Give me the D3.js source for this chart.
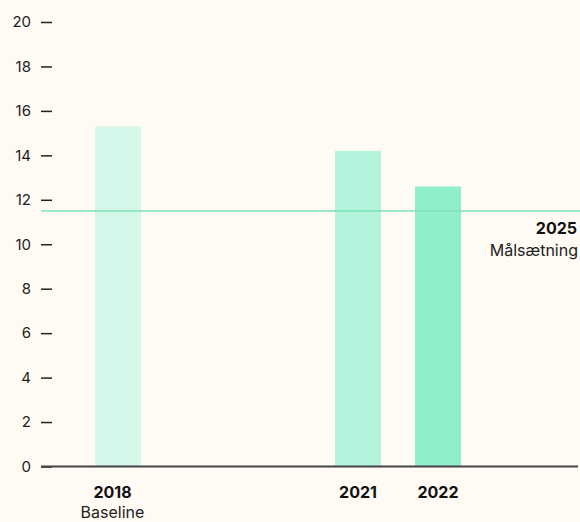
<!DOCTYPE html>
<html>
<head>
<meta charset="utf-8">
<script src="https://cdn.jsdelivr.net/npm/d3@7"></script>
<style>
  body { margin: 0; background: #fffaf3; }
  svg { display: block; font-family: Inter, "Noto Sans", sans-serif; }
</style>
</head>
<body>
<div id="chart"></div>
<script>
const years = [2018, 2019, 2020, 2021, 2022];
const barYears = [2018, 2021, 2022];
const barValues = [15.3, 14.2, 12.6];
const barColors = ['#d3f7e8', '#b4f4dc', '#90efca'];
const subLabels = ['Baseline', '', ''];
const yTicks = [0, 2, 4, 6, 8, 10, 12, 14, 16, 18, 20];
const targetValue = 11.5;
const targetYear = '2025';
const targetLabel = 'Målsætning';

const width = 580, height = 522;

const svg = d3.select('#chart')
  .append('svg')
  .attr('width', width)
  .attr('height', height);

const x = d3.scaleBand()
  .domain(years)
  .range([78, 478])
  .paddingInner(0.425)
  .paddingOuter(0.2125);

const y = d3.scaleLinear()
  .domain([0, 20])
  .range([466.5, 22]);

// y axis ticks (no domain line)
const yAxis = svg.append('g')
  .attr('transform', 'translate(52,0)')
  .call(d3.axisLeft(y).tickValues(yTicks).tickSize(11).tickPadding(10));
yAxis.select('.domain').remove();
yAxis.selectAll('line').attr('stroke', '#222').attr('stroke-width', 1.5);
yAxis.selectAll('text')
  .attr('fill', '#222')
  .style('font-size', '15px')
  .style('font-family', 'Inter, "Noto Sans", sans-serif');

// bars
const bars = barYears.map((yr, i) => ({ year: yr, value: barValues[i], color: barColors[i], sub: subLabels[i] }));

svg.selectAll('.bar')
  .data(bars)
  .enter()
  .append('rect')
  .attr('class', 'bar')
  .attr('x', d => x(d.year))
  .attr('y', d => y(d.value))
  .attr('width', x.bandwidth())
  .attr('height', d => y(0) - y(d.value))
  .style('fill', d => d.color);

// target line
svg.append('line')
  .attr('x1', 41).attr('x2', width)
  .attr('y1', y(targetValue)).attr('y2', y(targetValue))
  .style('stroke', '#7fe0b8')
  .style('stroke-width', 1.5);

// baseline
svg.append('line')
  .attr('x1', 41).attr('x2', 578)
  .attr('y1', y(0)).attr('y2', y(0))
  .style('stroke', '#444')
  .style('stroke-width', 2);

// x labels (labels with a subtitle sit a bit left of the bar centre)
const labelX = d => x(d.year) + x.bandwidth() / 2 - (d.sub ? 5.5 : 0);

svg.selectAll('.year')
  .data(bars)
  .enter()
  .append('text')
  .attr('class', 'year')
  .attr('x', labelX)
  .attr('y', 498)
  .attr('text-anchor', 'middle')
  .style('font-size', '16px')
  .style('font-weight', 'bold')
  .style('fill', '#111')
  .text(d => d.year);

svg.selectAll('.sub')
  .data(bars.filter(d => d.sub))
  .enter()
  .append('text')
  .attr('class', 'sub')
  .attr('x', labelX)
  .attr('y', 518)
  .attr('text-anchor', 'middle')
  .style('font-size', '16px')
  .style('fill', '#222')
  .text(d => d.sub);

// target label
svg.append('text')
  .attr('x', 577).attr('y', y(targetValue) + 23)
  .attr('text-anchor', 'end')
  .style('font-size', '16px').style('font-weight', 'bold').style('fill', '#111')
  .text(targetYear);
svg.append('text')
  .attr('x', 578).attr('y', y(targetValue) + 45)
  .attr('text-anchor', 'end')
  .style('font-size', '16px').style('fill', '#222')
  .text(targetLabel);
</script>
</body>
</html>
